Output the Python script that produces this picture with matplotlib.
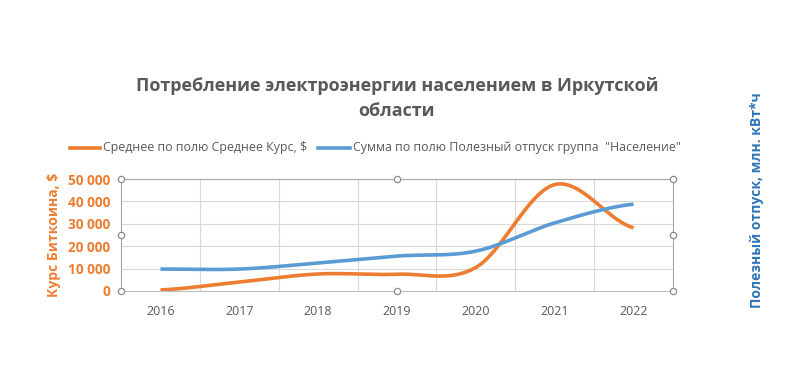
import numpy as np
import matplotlib.pyplot as plt

years = ['2016', '2017', '2018', '2019', '2020', '2021', '2022']
btc_rate = [450, 4000, 7600, 7500, 10500, 47500, 28200]
energy = [9800, 9800, 12500, 15600, 17800, 30400, 38800]

orange = '#ED7D31'
blue = '#5B9BD5'
grey_text = '#595959'


def smooth(x, y, n=40):
    # catmull-rom like the "smoothed line" option of the spreadsheet
    x = np.asarray(x, float)
    y = np.asarray(y, float)
    px = np.concatenate([[2 * x[0] - x[1]], x, [2 * x[-1] - x[-2]]])
    py = np.concatenate([[y[0]], y, [y[-1]]])
    xs, ys = [], []
    for i in range(1, len(px) - 2):
        t = np.linspace(0, 1, n)
        p0, p1, p2, p3 = py[i - 1], py[i], py[i + 1], py[i + 2]
        ys.append(0.5 * ((2 * p1) + (-p0 + p2) * t + (2 * p0 - 5 * p1 + 4 * p2 - p3) * t ** 2
                         + (-p0 + 3 * p1 - 3 * p2 + p3) * t ** 3))
        xs.append(px[i] + (px[i + 1] - px[i]) * t)
    return np.concatenate(xs), np.concatenate(ys)


plt.rcParams['font.family'] = ['Open Sans', 'DejaVu Sans']

fig = plt.figure(figsize=(8, 3.79), dpi=100)
ax = fig.add_axes([0.15125, 0.2322, 0.69, 0.2955])

x = np.arange(len(years))
sx, sy = smooth(x, btc_rate)
ax.plot(sx, sy, color=orange, lw=2.6, solid_capstyle='butt')
bx, by = smooth(x, energy)
ax.plot(bx, by, color=blue, lw=2.6, solid_capstyle='butt')

ax.set_xlim(-0.5, len(years) - 0.5)
ax.set_ylim(0, 50000)
ax.set_xticks(x)
ax.set_xticklabels(years, color=grey_text, fontsize=9)
ax.set_yticks(range(0, 50001, 10000))
ax.set_yticklabels(['0' if v == 0 else f'{v // 1000} 000' for v in range(0, 50001, 10000)],
                   color=orange, fontsize=9.8, fontweight='bold')
ax.tick_params(length=0, pad=8)
ax.tick_params(axis='x', pad=10)

for v in range(10000, 50001, 10000):
    ax.axhline(v, color='#D9D9D9', lw=0.8, zorder=0)
for b in np.arange(0.5, len(years) - 1, 1):
    ax.axvline(b, color='#D9D9D9', lw=0.8, zorder=0)

for s in ['top', 'right', 'left']:
    ax.spines[s].set_visible(False)
ax.spines['bottom'].set_color('#BFBFBF')

# selection handles around the plot area
for hx, hy in [(0, 0), (0.5, 0), (1, 0), (0, 0.5), (1, 0.5), (0, 1), (0.5, 1), (1, 1)]:
    ax.plot(hx, hy, 'o', ms=4.5, mfc='white', mec='#8C8C8C', mew=0.9,
            transform=ax.transAxes, clip_on=False, zorder=5)
ax.plot([0, 0], [0, 1], color='#A6A6A6', lw=0.8, transform=ax.transAxes, clip_on=False)
ax.plot([0, 1], [1, 1], color='#A6A6A6', lw=0.8, transform=ax.transAxes, clip_on=False)
ax.plot([1, 1], [0, 1], color='#A6A6A6', lw=0.8, transform=ax.transAxes, clip_on=False)

ax.set_ylabel('Курс Биткоина, $', color=orange, fontsize=10, fontweight='bold', labelpad=5)
fig.text(0.946, 0.472, 'Полезный отпуск, млн. кВт*ч', rotation=90, color='#2E75B6',
         fontsize=10, fontweight='bold', ha='center', va='center')

fig.text(0.496, 0.74, 'Потребление электроэнергии населением в Иркутской\nобласти',
         ha='center', va='center', fontsize=13, fontweight='bold', color=grey_text,
         linespacing=1.55)

# legend
ly = 0.61
fig.lines.append(plt.Line2D([0.087, 0.125], [ly, ly], color=orange, lw=2.6, transform=fig.transFigure))
fig.text(0.129, ly, 'Среднее по полю Среднее Курс, $', va='center', fontsize=8.9, color=grey_text)
fig.lines.append(plt.Line2D([0.397, 0.438], [ly, ly], color=blue, lw=2.6, transform=fig.transFigure))
fig.text(0.441, ly, 'Сумма по полю Полезный отпуск группа  "Население"', va='center', fontsize=8.9,
         color=grey_text)

fig.savefig('out.png', dpi=100)
